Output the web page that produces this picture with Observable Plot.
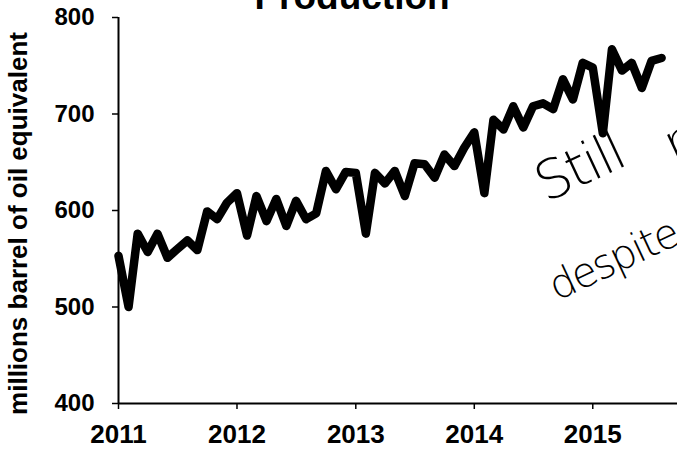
<!DOCTYPE html>
<html><head><meta charset="utf-8">
<script src="https://cdn.jsdelivr.net/npm/d3@7"></script>
<script src="https://cdn.jsdelivr.net/npm/@observablehq/plot@0.6"></script>
<style>
body{margin:0;background:#fff;overflow:hidden}
#wrap{position:relative;width:677px;height:459px;overflow:hidden;background:#fff}
.hand{letter-spacing:-2px}
</style></head><body><div id="wrap"></div>
<script>
const years = [2011, 2012, 2013, 2014, 2015];
const prod2011 = [553, 500, 576, 557, 576, 551, 560, 569, 559, 599, 591, 608];
const prod2012 = [618, 574, 615, 589, 612, 584, 610, 591, 597, 641, 622, 640];
const prod2013 = [639, 576, 639, 628, 641, 615, 649, 648, 634, 658, 646, 665];
const prod2014 = [681, 618, 694, 684, 708, 686, 708, 711, 705, 736, 715, 753];
const prod2015 = [748, 680, 767, 745, 753, 727, 755, 758];
const yTicks = [400, 500, 600, 700, 800];
const titleText = "Production";
const yLabel = "millions barrel of oil equivalent";
const note1 = "Still";
const note1b = "r";
const note2 = "despite";

const series = [prod2011, prod2012, prod2013, prod2014, prod2015];
const data = [];
series.forEach((arr, k) => arr.forEach((v, m) => data.push({date: new Date(Date.UTC(years[k], m, 1)), value: v})));
const xTicks = years.map(y => new Date(Date.UTC(y, 0, 1)));
const x0 = new Date(Date.UTC(2011, 0, 1));
const x1 = new Date(Date.UTC(2015, 8, 19));

const font = "'Liberation Sans', Arial, Helvetica, sans-serif";
const hand = "'DejaVu Sans', sans-serif";

const chart = Plot.plot({
  width: 677, height: 459,
  marginLeft: 118, marginRight: 0, marginTop: 17, marginBottom: 56,
  style: {fontFamily: font, background: "#fff", color: "#000"},
  x: {type: "utc", domain: [x0, x1]},
  y: {domain: [400, 800]},
  marks: [
    Plot.axisY({ticks: yTicks, tickSize: 6, tickPadding: 18, fontSize: 24, fontWeight: "bold", label: null, stroke: "#000", strokeWidth: 1.5}),
    Plot.axisX({ticks: xTicks, tickFormat: "%Y", tickSize: 6, tickPadding: 15, fontSize: 26, fontWeight: "bold", label: null, stroke: "#000", strokeWidth: 1.5}),
    Plot.ruleY([400], {stroke: "#000", strokeWidth: 2}),
    Plot.ruleX([x0], {stroke: "#000", strokeWidth: 2}),
    Plot.line(data, {x: "date", y: "value", stroke: "#000", strokeWidth: 8.5, strokeLinejoin: "round", strokeLinecap: "round"}),
    Plot.text([titleText], {frameAnchor: "top", dx: -46, dy: -9, lineAnchor: "bottom", fontSize: 37, fontWeight: "bold", fill: "#000"}),
    Plot.text([yLabel], {frameAnchor: "left", dx: -92, dy: 13, rotate: -90, lineAnchor: "bottom", textAnchor: "middle", fontSize: 26, fontWeight: "bold", fill: "#000"}),
    Plot.text([note1], {className: "hand", x: () => new Date(Date.UTC(2014, 7, 10)), y: () => 608, text: d => d, rotate: -25, textAnchor: "start", lineAnchor: "bottom", fontSize: 54, fontWeight: 200, fontFamily: hand, fill: "#000"}),
    Plot.text([note1b], {className: "hand", x: () => new Date(Date.UTC(2015, 8, 8)), y: () => 648, text: d => d, rotate: -25, textAnchor: "start", lineAnchor: "bottom", fontSize: 54, fontWeight: 200, fontFamily: hand, fill: "#000"}),
    Plot.text([note2], {className: "hand", x: () => new Date(Date.UTC(2014, 8, 12)), y: () => 506, text: d => d, rotate: -25, textAnchor: "start", lineAnchor: "bottom", fontSize: 41, fontWeight: 200, fontFamily: hand, fill: "#000"})
  ]
});
document.getElementById("wrap").appendChild(chart);
</script></body></html>
